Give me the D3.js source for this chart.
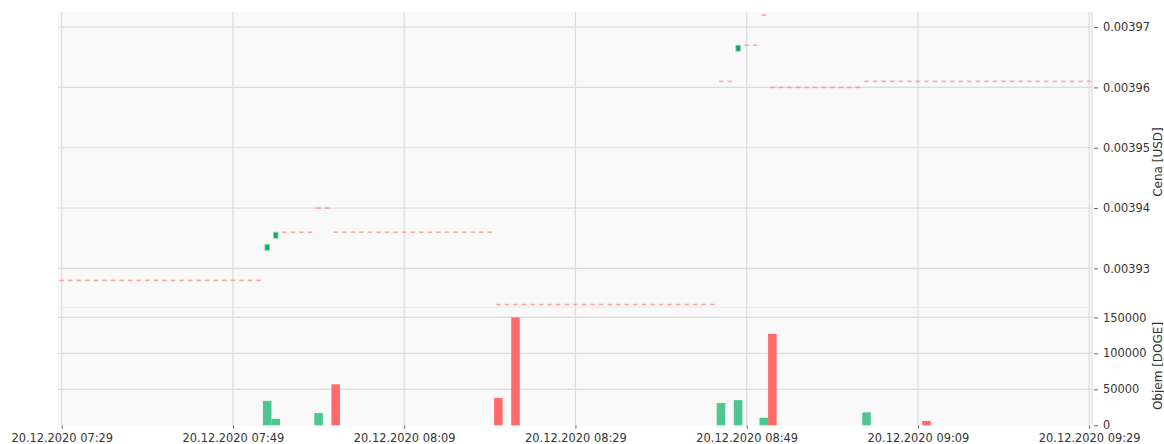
<!DOCTYPE html>
<html>
<head>
<meta charset="utf-8">
<script src="https://cdn.jsdelivr.net/npm/d3@7"></script>
<style>
  body { margin: 0; background: #fff; }
  text { font-family: "DejaVu Sans", sans-serif; fill: #333; }
</style>
</head>
<body>
<div id="chart"></div>
<script>
let width = 1164,
    height = 444;

// one-minute candles, 20.12.2020 07:29 .. 09:29
const startTime = "2020-12-20 07:29",
      endTime = "2020-12-20 09:30";
const xTickLabels = ["07:29", "07:49", "08:09", "08:29", "08:49", "09:09", "09:29"];
const priceTicks = [0.00393, 0.00394, 0.00395, 0.00396, 0.00397];
const volumeTicks = [0, 50000, 100000, 150000];

const openPx = [
  0.003928, 0.003928, 0.003928, 0.003928, 0.003928, 0.003928, 0.003928, 0.003928, 0.003928, 0.003928,
  0.003928, 0.003928, 0.003928, 0.003928, 0.003928, 0.003928, 0.003928, 0.003928, 0.003928, 0.003928,
  0.003928, 0.003928, 0.003928, 0.003928, 0.003933, 0.003935, 0.003936, 0.003936, 0.003936, 0.003936,
  0.00394, 0.00394, 0.003936, 0.003936, 0.003936, 0.003936, 0.003936, 0.003936, 0.003936, 0.003936,
  0.003936, 0.003936, 0.003936, 0.003936, 0.003936, 0.003936, 0.003936, 0.003936, 0.003936, 0.003936,
  0.003936, 0.003924, 0.003924, 0.003924, 0.003924, 0.003924, 0.003924, 0.003924, 0.003924, 0.003924,
  0.003924, 0.003924, 0.003924, 0.003924, 0.003924, 0.003924, 0.003924, 0.003924, 0.003924, 0.003924,
  0.003924, 0.003924, 0.003924, 0.003924, 0.003924, 0.003924, 0.003924, 0.003961, 0.003961, 0.003966,
  0.003967, 0.003967, 0.003972, 0.00396, 0.00396, 0.00396, 0.00396, 0.00396, 0.00396, 0.00396,
  0.00396, 0.00396, 0.00396, 0.00396, 0.003961, 0.003961, 0.003961, 0.003961, 0.003961, 0.003961,
  0.003961, 0.003961, 0.003961, 0.003961, 0.003961, 0.003961, 0.003961, 0.003961, 0.003961, 0.003961,
  0.003961, 0.003961, 0.003961, 0.003961, 0.003961, 0.003961, 0.003961, 0.003961, 0.003961, 0.003961,
  0.003961
];

const closePx = [
  0.003928, 0.003928, 0.003928, 0.003928, 0.003928, 0.003928, 0.003928, 0.003928, 0.003928, 0.003928,
  0.003928, 0.003928, 0.003928, 0.003928, 0.003928, 0.003928, 0.003928, 0.003928, 0.003928, 0.003928,
  0.003928, 0.003928, 0.003928, 0.003928, 0.003934, 0.003936, 0.003936, 0.003936, 0.003936, 0.003936,
  0.00394, 0.00394, 0.003936, 0.003936, 0.003936, 0.003936, 0.003936, 0.003936, 0.003936, 0.003936,
  0.003936, 0.003936, 0.003936, 0.003936, 0.003936, 0.003936, 0.003936, 0.003936, 0.003936, 0.003936,
  0.003936, 0.003924, 0.003924, 0.003924, 0.003924, 0.003924, 0.003924, 0.003924, 0.003924, 0.003924,
  0.003924, 0.003924, 0.003924, 0.003924, 0.003924, 0.003924, 0.003924, 0.003924, 0.003924, 0.003924,
  0.003924, 0.003924, 0.003924, 0.003924, 0.003924, 0.003924, 0.003924, 0.003961, 0.003961, 0.003967,
  0.003967, 0.003967, 0.003972, 0.00396, 0.00396, 0.00396, 0.00396, 0.00396, 0.00396, 0.00396,
  0.00396, 0.00396, 0.00396, 0.00396, 0.003961, 0.003961, 0.003961, 0.003961, 0.003961, 0.003961,
  0.003961, 0.003961, 0.003961, 0.003961, 0.003961, 0.003961, 0.003961, 0.003961, 0.003961, 0.003961,
  0.003961, 0.003961, 0.003961, 0.003961, 0.003961, 0.003961, 0.003961, 0.003961, 0.003961, 0.003961,
  0.003961
];

const volume = [
  0, 0, 0, 0, 0, 0, 0, 0, 0, 0,
  0, 0, 0, 0, 0, 0, 0, 0, 0, 0,
  0, 0, 0, 0, 34000, 9000, 0, 0, 0, 0,
  17000, 0, 57000, 0, 0, 0, 0, 0, 0, 0,
  0, 0, 0, 0, 0, 0, 0, 0, 0, 0,
  0, 38000, 0, 150000, 0, 0, 0, 0, 0, 0,
  0, 0, 0, 0, 0, 0, 0, 0, 0, 0,
  0, 0, 0, 0, 0, 0, 0, 31000, 0, 35000,
  0, 0, 10500, 127000, 0, 0, 0, 0, 0, 0,
  0, 0, 0, 0, 18000, 0, 0, 0, 0, 0,
  0, 6000, 0, 0, 0, 0, 0, 0, 0, 0,
  0, 0, 0, 0, 0, 0, 0, 0, 0, 0,
  0
];

const parse = d3.timeParse("%Y-%m-%d %H:%M");
const times = d3.timeMinute.range(parse(startTime), parse(endTime));
const candles = times.map(function (t, i) {
  return { t: t, o: openPx[i], c: closePx[i], v: volume[i],
           up: i > 0 && closePx[i] > closePx[i - 1] };
});
const xTicks = xTickLabels.map(function (s) { return parse("2020-12-20 " + s); });

const left = 58, right = 1092,
      priceTop = 12, priceBottom = 307,
      volTop = 308, volBottom = 425.3;

const x = d3.scaleTime()
  .domain([d3.timeSecond.offset(times[0], -26), d3.timeSecond.offset(times[times.length - 1], 20)])
  .range([left, right]);
const yP = d3.scaleLinear().domain([0.0039236, 0.0039725]).range([priceBottom, priceTop]);
const yV = d3.scaleLinear().domain([0, 163000]).range([volBottom, volTop]);

const svg = d3.select("#chart").append("svg")
    .attr("width", width)
    .attr("height", height);

svg.append("rect")
  .attr("x", left).attr("y", priceTop)
  .attr("width", right - left).attr("height", volBottom - priceTop)
  .attr("fill", "#f9f9f9");

const grid = svg.append("g").attr("stroke", "#dcdcdc").attr("stroke-width", 1.2);
grid.selectAll(".vg").data(xTicks).enter().append("line")
  .attr("x1", function (d) { return x(d); }).attr("x2", function (d) { return x(d); })
  .attr("y1", priceTop).attr("y2", volBottom);
grid.selectAll(".pg").data(priceTicks).enter().append("line")
  .attr("x1", left).attr("x2", right)
  .attr("y1", function (d) { return yP(d); }).attr("y2", function (d) { return yP(d); });
grid.selectAll(".volg").data(volumeTicks.slice(1)).enter().append("line")
  .attr("x1", left).attr("x2", right)
  .attr("y1", function (d) { return yV(d); }).attr("y2", function (d) { return yV(d); });
svg.append("line")
  .attr("x1", left).attr("x2", right).attr("y1", 307.5).attr("y2", 307.5)
  .attr("stroke", "#ebebeb").attr("stroke-width", 1);
svg.append("line")
  .attr("x1", right).attr("x2", right).attr("y1", priceTop).attr("y2", volBottom)
  .attr("stroke", "#dcdcdc").attr("stroke-width", 1.2);

// volume bars
const bw = x(times[1]) - x(times[0]);
svg.append("g").selectAll("rect")
  .data(candles.filter(function (d) { return d.v > 0; }))
  .enter().append("rect")
  .attr("x", function (d) { return x(d.t) - bw / 2; })
  .attr("y", function (d) { return yV(d.v); })
  .attr("width", bw)
  .attr("height", function (d) { return yV(0) - yV(d.v); })
  .attr("fill", function (d) { return d.up ? "#4dc78f" : "#ff6b6b"; });

// flat candles drawn as short dashes
svg.append("g").selectAll("rect")
  .data(candles.filter(function (d) { return d.o === d.c; }))
  .enter().append("rect")
  .attr("x", function (d) { return x(d.t) - 2.2; })
  .attr("y", function (d) { return yP(d.c) - 0.8; })
  .attr("width", 4.4)
  .attr("height", 1.6)
  .attr("fill", "#ff8585")
  .attr("opacity", 0.7);

// candle bodies
svg.append("g").selectAll("rect")
  .data(candles.filter(function (d) { return d.o !== d.c; }))
  .enter().append("rect")
  .attr("x", function (d) { return x(d.t) - 2.3; })
  .attr("y", function (d) { return yP(Math.max(d.o, d.c)); })
  .attr("width", 4.6)
  .attr("height", function (d) { return Math.abs(yP(d.o) - yP(d.c)); })
  .attr("fill", function (d) { return d.c > d.o ? "#17a865" : "#ff6b6b"; })
  .attr("stroke", function (d) { return d.c > d.o ? "#8fd9b4" : "#ffb0b0"; })
  .attr("stroke-width", 0.8);

// axes
function styleAxis(g) {
  g.select(".domain").remove();
  g.selectAll(".tick line").attr("stroke", "#666");
  g.selectAll(".tick text").attr("fill", "#333")
    .style("font-family", "'DejaVu Sans', sans-serif").style("font-size", "11.4px");
}

svg.append("g")
  .attr("transform", "translate(1094,0)")
  .call(d3.axisRight(yP).tickValues(priceTicks).tickSize(4).tickPadding(5).tickFormat(d3.format(".5f")))
  .call(styleAxis);

svg.append("g")
  .attr("transform", "translate(1094,0)")
  .call(d3.axisRight(yV).tickValues(volumeTicks).tickSize(4).tickPadding(5).tickFormat(d3.format("d")))
  .call(styleAxis);

svg.append("g")
  .attr("transform", "translate(0," + volBottom + ")")
  .call(d3.axisBottom(x).tickValues(xTicks).tickSize(3.5).tickPadding(5.3)
    .tickFormat(d3.timeFormat("%d.%m.%Y %H:%M")))
  .call(styleAxis);

svg.append("text")
  .attr("transform", "translate(1158,162) rotate(-90)")
  .attr("text-anchor", "middle").attr("dominant-baseline", "central")
  .style("font-size", "12px")
  .text("Cena [USD]");

svg.append("text")
  .attr("transform", "translate(1158,366) rotate(-90)")
  .attr("text-anchor", "middle").attr("dominant-baseline", "central")
  .style("font-size", "12px")
  .text("Objem [DOGE]");
</script>
</body>
</html>
